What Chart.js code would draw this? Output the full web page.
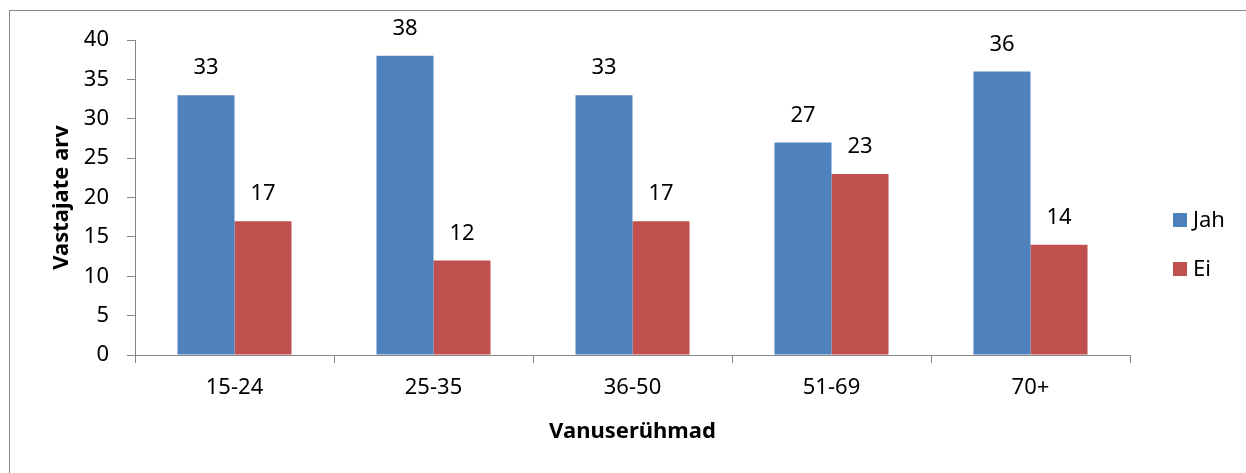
<!DOCTYPE html>
<html>
<head>
<meta charset="utf-8">
<script src="https://cdn.jsdelivr.net/npm/chart.js@4"></script>
<style>
  html, body { margin: 0; padding: 0; background: #fff; }
  #wrap { position: relative; width: 1246px; height: 473px; overflow: hidden; }
  #frame { position: absolute; left: 9px; top: 10px; width: 1300px; height: 600px; border: 1px solid #878787; box-sizing: border-box; }
  canvas { position: absolute; left: 0; top: 0; }
</style>
</head>
<body>
<div id="wrap">
  <div id="frame"></div>
  <canvas id="chart" width="1246" height="473"></canvas>
</div>
<script>
const categories = ['15-24', '25-35', '36-50', '51-69', '70+'];
const jahValues = [33, 38, 33, 27, 36];
const eiValues = [17, 12, 17, 23, 14];
const seriesNames = ['Jah', 'Ei'];
const yTicks = [0, 5, 10, 15, 20, 25, 30, 35, 40];

const FONT = "'Noto Sans', 'Open Sans', sans-serif";
const AXIS = '#868686';

// writes the value above each bar
const valueLabels = {
  id: 'valueLabels',
  afterDatasetsDraw(chart) {
    const ctx = chart.ctx;
    ctx.save();
    ctx.font = '22px ' + FONT;
    ctx.fillStyle = '#000';
    ctx.textAlign = 'center';
    ctx.textBaseline = 'middle';
    chart.data.datasets.forEach((ds, i) => {
      chart.getDatasetMeta(i).data.forEach((bar, j) => {
        ctx.fillText(String(ds.data[j]), bar.x, bar.y - 27);
      });
    });
    ctx.restore();
  }
};

// legend on the right, placed like the original
const sideLegend = {
  id: 'sideLegend',
  afterDraw(chart) {
    const ctx = chart.ctx;
    const x = chart.chartArea.right + 43;
    ctx.save();
    ctx.font = '22px ' + FONT;
    ctx.textBaseline = 'middle';
    ctx.textAlign = 'left';
    chart.data.datasets.forEach((ds, i) => {
      const y = 220 + i * 49;
      ctx.fillStyle = ds.backgroundColor;
      ctx.fillRect(x, y - 7, 14, 14);
      ctx.fillStyle = '#000';
      ctx.fillText(ds.label, x + 20, y + 1);
    });
    ctx.restore();
  }
};

new Chart(document.getElementById('chart'), {
  type: 'bar',
  data: {
    labels: categories,
    datasets: [
      { label: seriesNames[0], data: jahValues, backgroundColor: '#4F81BD' },
      { label: seriesNames[1], data: eiValues, backgroundColor: '#C0504D' }
    ]
  },
  options: {
    responsive: false,
    animation: false,
    layout: { padding: { top: 40, right: 116, bottom: 0, left: 0 } },
    datasets: { bar: { categoryPercentage: 0.573, barPercentage: 1 } },
    plugins: {
      legend: { display: false },
      tooltip: { enabled: false }
    },
    scales: {
      x: {
        afterFit(scale) { scale.height = 118; },
        grid: { drawOnChartArea: false, color: AXIS, tickLength: 8, offset: true },
        border: { color: AXIS, width: 1 },
        ticks: { font: { family: FONT, size: 22 }, color: '#000', padding: 12 },
        title: { display: true, text: 'Vanuserühmad', font: { family: FONT, size: 22, weight: 'bold' }, color: '#000', padding: { top: 0, bottom: 28 } }
      },
      y: {
        min: 0,
        max: 40,
        afterFit(scale) { scale.width = 135; },
        afterBuildTicks(scale) { scale.ticks = yTicks.map(v => ({ value: v })); },
        grid: { drawOnChartArea: false, color: AXIS, tickLength: 8 },
        border: { color: AXIS, width: 1 },
        ticks: { font: { family: FONT, size: 22 }, color: '#000', padding: 18 },
        title: { display: true, text: 'Vastajate arv', font: { family: FONT, size: 22, weight: 'bold' }, color: '#000', padding: { top: 49, bottom: 0 } }
      }
    }
  },
  plugins: [valueLabels, sideLegend]
});
</script>
</body>
</html>
